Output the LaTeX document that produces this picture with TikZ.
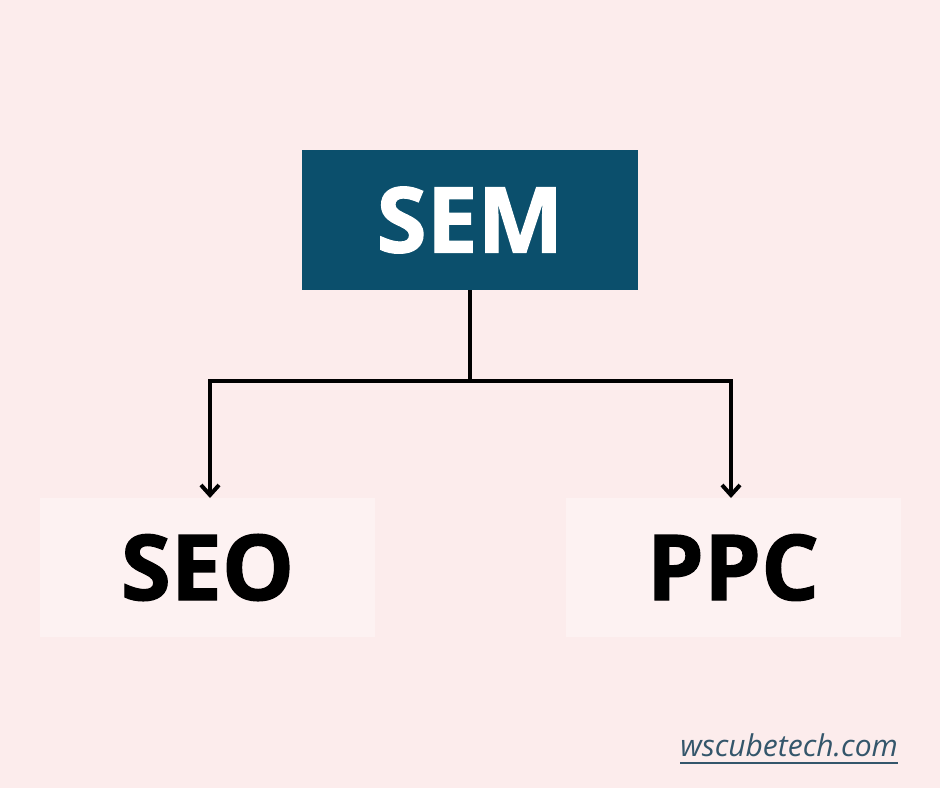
\documentclass[tikz,border=0pt]{standalone}
\usepackage{fontspec}
\setmainfont{Open Sans}
\newfontfamily\heavyfont{Open Sans}[BoldFeatures={FakeBold=1.3}]
\usetikzlibrary{arrows.meta,positioning}
\definecolor{bgpink}{HTML}{FCECEC}
\definecolor{boxpink}{HTML}{FDF2F2}
\definecolor{semblue}{HTML}{0B4F6C}
\definecolor{webgray}{HTML}{34566B}

\begin{document}
\begin{tikzpicture}[x=1pt,y=1pt,>={Straight Barb[length=10pt,width=18pt]},
  topbox/.style={fill=semblue,text=white,minimum width=336pt,minimum height=140pt,inner sep=0pt,font=\fontsize{91}{91}\heavyfont\bfseries},
  leafbox/.style={fill=boxpink,text=black,minimum width=335pt,minimum height=139pt,inner sep=0pt,font=\fontsize{91}{91}\heavyfont\bfseries},
  link/.style={line width=4pt,line join=miter,black}]

% background
\fill[bgpink] (0,0) rectangle (940,-788);
\useasboundingbox (0,0) rectangle (940,-788);

\node[topbox]   (sem)   at (470,-220)   {SEM};
\node[leafbox]  (seo)   at (207.5,-567.5) {SEO};
\node[leafbox]  (ppc)   at (733,-567.5)   {PPC};

\coordinate (split) at (470,-381);
\coordinate (seotop) at (210,-498);
\coordinate (ppctop) at (731,-498);

\draw[link] (sem.south) -- (split);
\draw[link,->] (split) -| (seotop);
\draw[link,->] (split) -| (ppctop);

% site name
\node[text=webgray,anchor=base east,inner sep=0pt,font=\fontsize{30}{30}\selectfont\itshape] (web) at (898,-756) {wscubetech.com};
\draw[webgray,line width=2.5pt] (web.west |- 0,-763) -- (web.east |- 0,-763);

\end{tikzpicture}
\end{document}
